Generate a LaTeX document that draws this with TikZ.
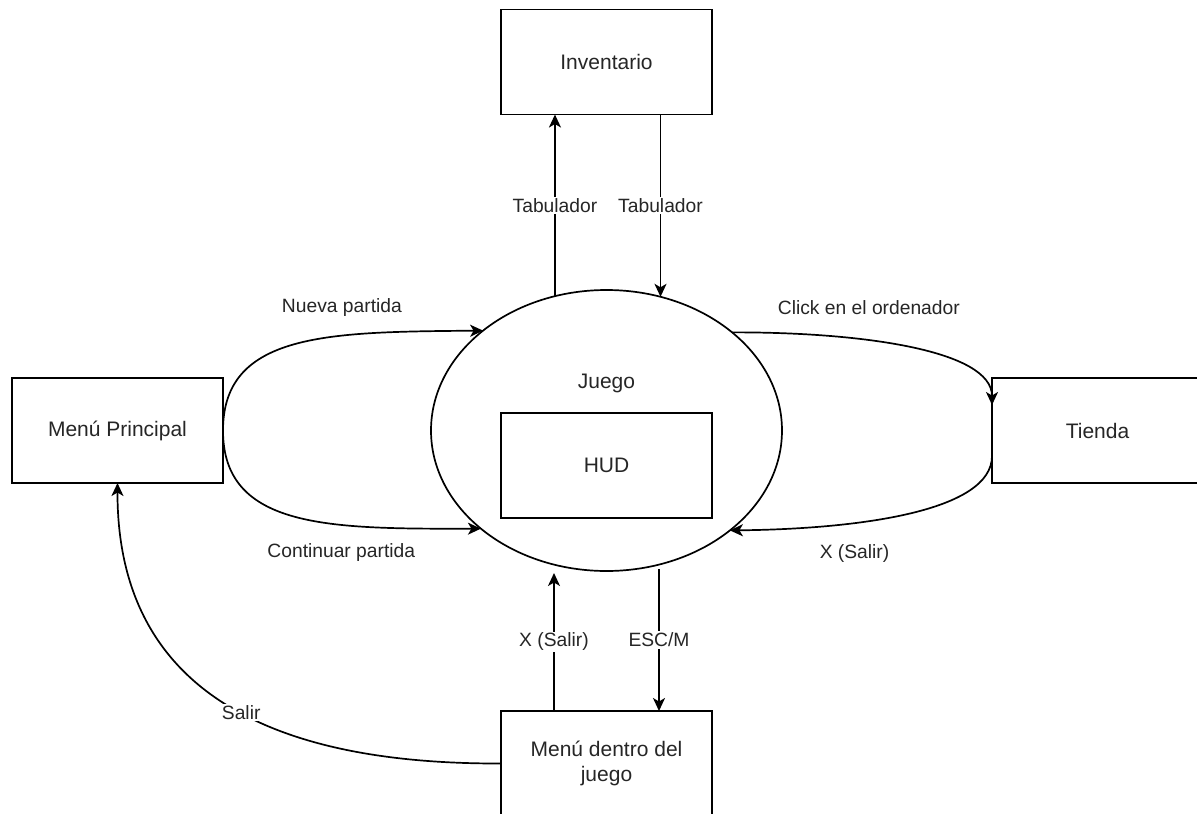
\documentclass[tikz,border=0pt]{standalone}
\usepackage{fontspec}
\setmainfont{Liberation Sans}
\usetikzlibrary{shapes.geometric,arrows.meta,calc}
\begin{document}
\begin{tikzpicture}[x=1pt,y=-1pt,
  every node/.style={outer sep=0pt},
  box/.style={draw, line width=1.7pt, minimum width=211pt, minimum height=105pt,
    inner sep=0pt, font=\fontsize{21}{24.5}\selectfont, text=black!85, align=center},
  ttl/.style={font=\fontsize{21}{24.5}\selectfont, text=black!85, inner sep=0pt},
  lbl/.style={font=\fontsize{19.25}{22}\selectfont, text=black!85, inner sep=1.5pt},
  onl/.style={lbl, fill=white},
  arr/.style={-{Stealth[length=13pt,width=12pt,inset=3.5pt]}, line width=1.7pt},
]
\fill[white] (0,0) rectangle (1197,814);
\clip (0,0) rectangle (1197,814);

% states
\node[box] (inv) at (606.5,62) {Inventario};
\node[box] (mp) at (117.5,430.5) {Menú Principal};
\node[box] (tienda) at (1097.5,430.5) {Tienda};
\node[box] (mdj) at (606.5,763.5) {Menú dentro del\\juego};
\node[draw, ellipse, line width=1.7pt, minimum width=351pt, minimum height=281pt,
  inner sep=0pt] (juego) at (606.5,430.5) {};
\node[ttl] (juegot) at (606.5,383) {Juego};
\node[box] (hud) at (606.5,465.5) {HUD};

% juego <-> inventario
\draw[arr] (juego.111.4) -- (juego.111.4 |- inv.south)
  node[onl, pos=0.5] (l1) {Tabulador};
\draw[arr] (inv.south -| juego.68.6) -- (juego.68.6)
  node[onl, pos=0.5] (l2) {Tabulador};

% menu principal -> juego
\draw[arr] (mp.east) .. controls (223,332) and (330,332) .. (juego.141.8)
  node[lbl, pos=0.65, yshift=28] (l3) {Nueva partida};
\draw[arr] (mp.east) .. controls (223,529) and (330,529) .. (juego.218.2)
  node[lbl, pos=0.65, yshift=-28] (l4) {Continuar partida};

% juego <-> tienda
\draw[arr] (juego.38.2) .. controls (860,332) and (992,350) .. ($(tienda.west)+(0,-25.5)$)
  node[lbl, pos=0.37, yshift=33] (l5) {Click en el ordenador};
\draw[arr] ($(tienda.west)+(0,25.5)$) .. controls (992,511) and (860,529) .. (juego.321.8)
  node[lbl, pos=0.67, yshift=-31] (l6) {X (Salir)};

% juego <-> menu dentro del juego
\coordinate (jin) at (554,573);
\coordinate (jout) at (659,569);
\draw[arr] (mdj.north -| jin) -- (jin)
  node[onl, pos=0.5] (l7) {X (Salir)};
\draw[arr] (jout) -- (jout |- mdj.north)
  node[onl, pos=0.5] (l8) {ESC/M};

% menu dentro del juego -> menu principal
\draw[arr] (mdj.west) .. controls (320,764) and (117,720) .. (mp.south)
  node[onl, pos=0.5] (l9) {Salir};
\end{tikzpicture}
\end{document}
